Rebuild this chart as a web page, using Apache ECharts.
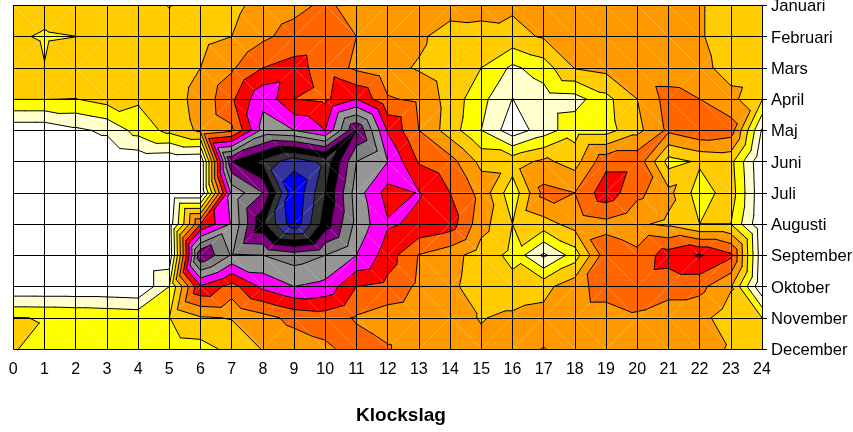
<!DOCTYPE html>
<html><head><meta charset="utf-8">
<style>html,body{margin:0;padding:0;background:#fff}#c{width:853px;height:432px}</style>
<script src="https://cdn.jsdelivr.net/npm/echarts@6/dist/echarts.min.js"></script>
</head><body><div id="c"></div>
<script>
const months = ['Januari','Februari','Mars','April','Maj','Juni','Juli','Augusti','September','Oktober','November','December'];
const hours = [0,1,2,3,4,5,6,7,8,9,10,11,12,13,14,15,16,17,18,19,20,21,22,23,24];
const januari  = [3.9,3.5,3.9,3.5,3.5,2.95,3.5,3.7,4.4,4.7,5.2,4.6,4.5,4.5,4.5,4.4,4.15,4.3,4.4,4.4,4.4,4.3,4.1,3.5,3.5];
const februari = [3.2,2.85,2.99,3.5,3.5,3.5,3.7,4.0,4.8,5.4,5.5,5.0,4.6,4.2,3.5,3.6,3.7,4.1,4.3,4.3,4.3,4.2,4.1,3.5,3.5];
const mars     = [3.9,3.04,3.9,3.5,3.5,3.5,4.0,4.85,6.0,6.34,5.6,4.8,4.3,3.9,3.4,3.0,1.8,2.5,4.05,4.3,4.4,4.4,4.3,3.6,3.5];
const april    = [3.03,3.03,2.98,3.4,3.15,3.6,4.3,5.8,7.8,6.0,5.8,6.98,5.1,4.8,3.6,2.3,0.98,1.5,1.6,2.7,4.0,5.4,5.0,4.3,3.1];
const maj      = [0.3,0.3,0.8,1.2,2.4,3.3,4.2,4.8,8.3,8.0,7.0,11.0,6.9,5.0,3.5,2.0,0.4,1.5,2.6,2.6,3.7,5.2,5.8,5.5,0.9];
const juni     = [0,0,0,0,0.2,0.1,0,11.0,12.3,13.6,12.7,9.0,8.0,5.9,5.4,3.7,3.6,4.2,3.6,5.7,5.7,2.6,3.15,3.3,0.1];
const juli     = [0,0,0,0,0,0,0,8.3,10.0,14.95,12.0,8.5,6.6,7.05,6.0,4.67,2.35,5.3,5.0,6.6,5.27,4.3,2.5,3.5,0.2];
const augusti  = [0,0,0,0,0,0.4,6.0,8.1,11.8,14.7,11.5,8.7,7.1,6.85,6.5,4.4,3.0,3.6,4.4,4.7,4.15,3.8,3.0,3.0,0.1];
const september= [0,0,0,0,0,0.2,10.95,8.9,9.0,9.5,9.0,8.0,6.5,4.95,4.4,3.5,2.75,0.8,2.5,5.6,5.3,6.5,7.1,6.2,0.3];
const oktober  = [0.1,0.1,0.1,0.1,0,2.0,6.9,5.6,7.25,8.0,7.7,6.0,5.7,4.8,4.3,3.3,3.3,3.7,4.6,5.5,5.4,5.3,5.3,4.1,0.1];
const november = [3.02,2.98,2.9,2.8,2.7,2.98,3.9,4.05,4.65,5.3,5.5,4.9,4.5,4.3,4.3,3.95,4.2,4.3,4.5,4.5,4.9,4.6,4.3,3.5,3.0];
const december = [3.1,2.5,2.5,2.5,2.5,2.5,2.6,3.3,4.05,4.4,4.8,5.4,5.1,4.3,4.2,4.2,4.2,3.98,4.2,4.3,4.3,4.2,4.2,3.95,3.5];
const bandColors = ['#FFFFFF','#FFFFCC','#FFFF00','#FFCC00','#FF9900','#FF6600','#FF0000','#FF00FF','#969696','#808080','#800080','#000000','#333333','#333399','#0000FF'];

const values = [januari,februari,mars,april,maj,juni,juli,augusti,september,oktober,november,december];
const cells = [];
for (let r = 0; r < months.length - 1; r++) for (let c = 0; c < hours.length - 1; c++) cells.push([c, r]);

// Each cell is cut along one diagonal: the one joining the pair of corners with the larger sum.
function cellTriangles(c, r) {
  const a = {x:c,   y:r,   v:values[r][c]};
  const b = {x:c+1, y:r,   v:values[r][c+1]};
  const d = {x:c+1, y:r+1, v:values[r+1][c+1]};
  const e = {x:c,   y:r+1, v:values[r+1][c]};
  return (a.v + d.v >= b.v + e.v) ? [[a,b,d],[a,d,e]] : [[a,b,e],[b,d,e]];
}
function lerp(p, q, L) {
  const t = (L - p.v) / (q.v - p.v);
  return {x:p.x+(q.x-p.x)*t, y:p.y+(q.y-p.y)*t, v:L};
}
function clip(poly, L, above) {
  const out = [];
  for (let i = 0; i < poly.length; i++) {
    const p = poly[i], q = poly[(i+1)%poly.length];
    const pin = above ? p.v >= L : p.v <= L;
    const qin = above ? q.v >= L : q.v <= L;
    if (pin) out.push(p);
    if (pin !== qin) out.push(lerp(p, q, L));
  }
  return out;
}
function renderFill(params, api) {
  const c = api.value(0), r = api.value(1), children = [];
  for (const tri of cellTriangles(c, r)) {
    bandColors.forEach((color, k) => {
      let poly = tri;
      if (k > 0) poly = clip(poly, k, true);
      if (k < bandColors.length - 1 && poly.length) poly = clip(poly, k + 1, false);
      if (poly.length < 3) return;
      children.push({type:'polygon', silent:true,
        shape:{points:poly.map(p => api.coord([p.x, p.y]))},
        style:{fill:color, stroke:null}});
    });
  }
  return {type:'group', children};
}
function renderLines(params, api) {
  const c = api.value(0), r = api.value(1), children = [];
  for (const tri of cellTriangles(c, r)) {
    for (let k = 1; k < bandColors.length; k++) {
      const L = k + 1e-6, pts = [];
      for (let i = 0; i < 3; i++) {
        const p = tri[i], q = tri[(i+1)%3];
        if ((p.v - L) * (q.v - L) < 0) pts.push(lerp(p, q, L));
      }
      if (pts.length === 2) {
        const p1 = api.coord([pts[0].x, pts[0].y]), p2 = api.coord([pts[1].x, pts[1].y]);
        children.push({type:'line', silent:true,
          shape:{x1:p1[0], y1:p1[1], x2:p2[0], y2:p2[1]},
          style:{stroke:'#000', lineWidth:1, lineCap:'round'}});
      }
    }
  }
  return {type:'group', children};
}
const FONT = '"Liberation Sans", Arial, sans-serif';
const chart = echarts.init(document.getElementById('c'), null, {renderer:'canvas'});
chart.setOption({
  animation:false,
  backgroundColor:'#fff',
  title:{text:'Klockslag', left:396, top:401, textAlign:'center',
    textStyle:{fontFamily:FONT, fontSize:19, fontWeight:'bold', color:'#000'}},
  grid:{left:13.3, right:91, top:5.3, bottom:83, outerBoundsMode:'none', containLabel:false},
  xAxis:{type:'value', min:0, max:24, interval:1, z:10,
    axisLine:{show:true, lineStyle:{color:'#000', width:1}},
    axisTick:{show:true, length:6, lineStyle:{color:'#000'}},
    axisLabel:{show:true, fontFamily:FONT, fontSize:16, color:'#000', margin:13, formatter:v=>String(hours[v]), hideOverlap:false},
    splitLine:{show:true, lineStyle:{color:'#000', width:1}}},
  yAxis:{type:'value', inverse:true, position:'right', min:0, max:11, interval:1, z:10,
    axisLine:{show:true, onZero:false, lineStyle:{color:'#000', width:1, type:'dashed'}},
    axisTick:{show:true, length:5, lineStyle:{color:'#000'}},
    axisLabel:{show:true, margin:9, formatter:v=>'{m|'+months[v]+'}', showMinLabel:true, showMaxLabel:true,
      rich:{m:{fontFamily:FONT, fontSize:16.6, color:'#000', padding:[3,0,0,0]}}},
    splitLine:{show:true, lineStyle:{color:'#000', width:1}}},
  series:[
    {type:'custom', z:2, coordinateSystem:'cartesian2d', renderItem:renderFill, data:cells, clip:true, silent:true},
    {type:'custom', z:3, coordinateSystem:'cartesian2d', renderItem:renderLines, data:cells, clip:true, silent:true}
  ]
});
</script></body></html>
